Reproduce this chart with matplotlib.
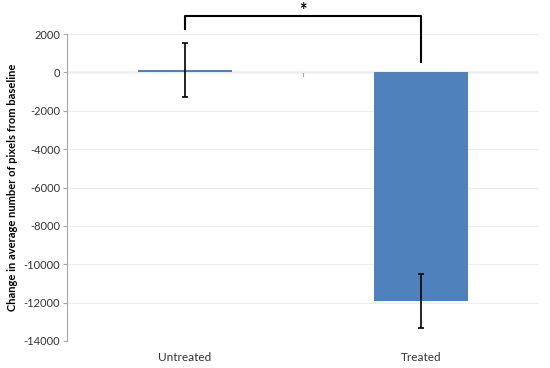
import matplotlib
matplotlib.use("Agg")
from matplotlib import pyplot as plt
import numpy as np

plt.rcParams['font.family'] = ['Lato', 'DejaVu Sans']

categories = ["Untreated", "Treated"]
means = [120, -11900]
errors = [1400, 1400]
yticks = list(range(-14000, 2001, 2000))

fig = plt.figure(figsize=(5.5, 3.68), dpi=100)
ax = fig.add_axes([0.122, 0.0734, 0.858, 0.834])

x = np.arange(len(categories))
ax.bar(x, means, width=0.40, color="#4F81BD", zorder=2)
ax.errorbar(x, means, yerr=errors, fmt="none", ecolor="black",
            elinewidth=1.2, capsize=2.5, capthick=1.2, zorder=3)

ax.set_xlim(-0.5, 1.5)
ax.set_ylim(-14000, 2000)
ax.set_yticks(yticks)
ax.set_yticklabels([str(t) for t in yticks], fontsize=8, color="#333333")
ax.yaxis.grid(True, color="#EDEDED", linewidth=0.8, zorder=0)
ax.axhline(0, color="#A6A6A6", linewidth=0.9, zorder=1)
ax.plot([0.5, 0.5], [0, -180], color="#A6A6A6", linewidth=0.8, zorder=1)

for s in ["top", "right", "bottom"]:
    ax.spines[s].set_visible(False)
ax.spines["left"].set_color("#A6A6A6")
ax.tick_params(axis="y", length=3, color="#A6A6A6", pad=2)
ax.tick_params(axis="x", length=0, pad=8)
ax.set_xticks(x)
ax.set_xticklabels(categories, fontsize=8.5, color="#333333")

ax.set_ylabel("Change in average number of pixels from baseline",
              fontsize=8, fontweight="bold", labelpad=4)

# significance bracket
ax.plot([0, 0, 1, 1], [2250, 2950, 2950, 550], color="black",
        linewidth=1.5, clip_on=False, zorder=4)
ax.text(0.5, 3250, "*", ha="center", va="center", fontsize=13,
        fontweight="bold", clip_on=False)

fig.savefig("out.png", dpi=100)
